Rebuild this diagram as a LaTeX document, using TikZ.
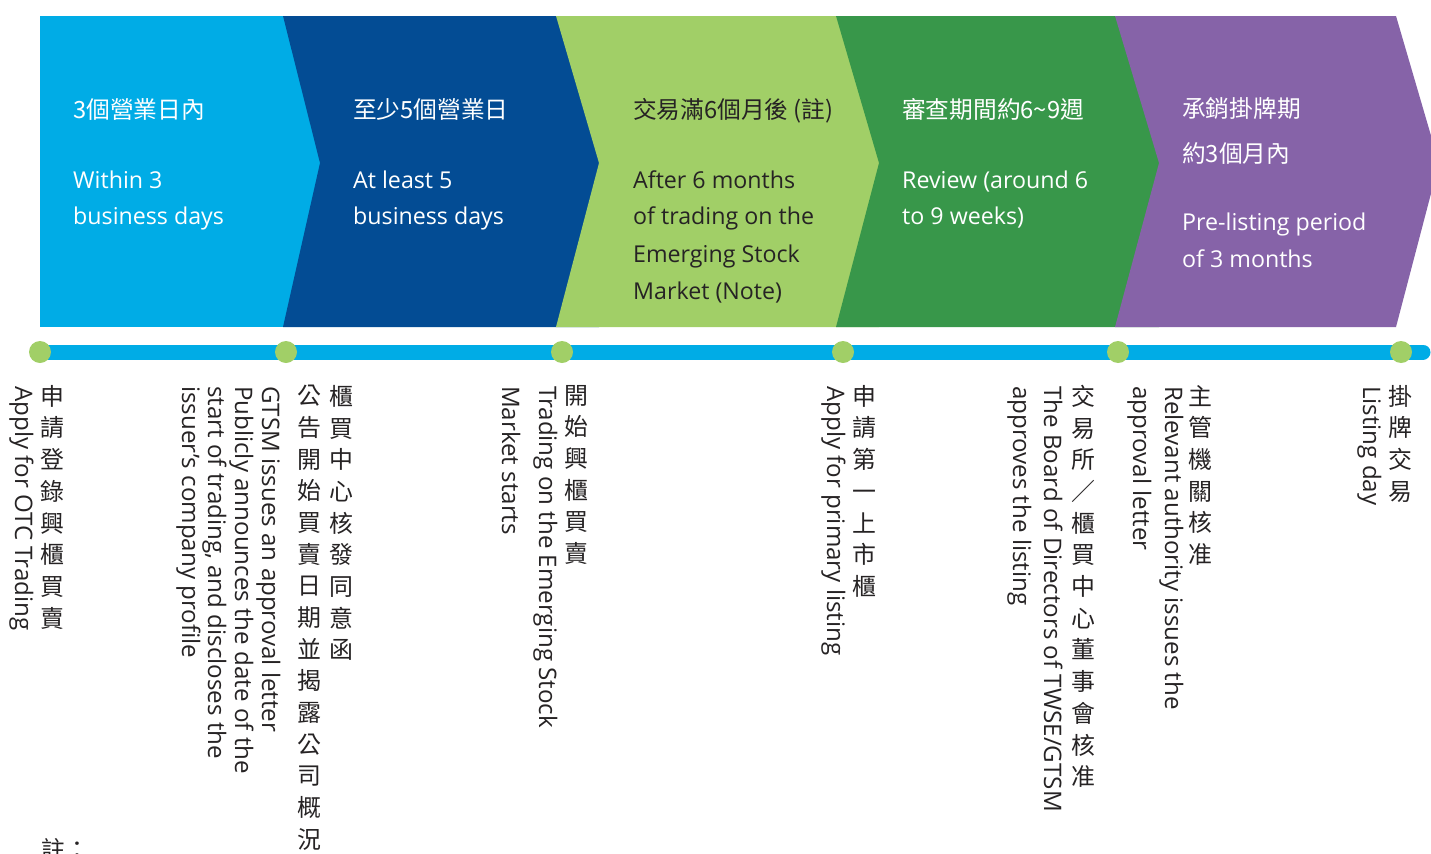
\documentclass[tikz,border=0pt]{standalone}
\usepackage{fontspec}
\setmainfont{Open Sans}
\newfontfamily\cjk{Noto Sans CJK TC}
\definecolor{cLightBlue}{HTML}{00ACE6}
\definecolor{cDarkBlue}{HTML}{034C94}
\definecolor{cLightGreen}{HTML}{A1CF67}
\definecolor{cGreen}{HTML}{38974A}
\definecolor{cPurple}{HTML}{8663A8}
\definecolor{cText}{HTML}{262324}
\tikzset{
  toptext/.style={anchor=base west, inner sep=0pt, font=\fontsize{23.3}{28}\selectfont, text=white},
  topcjk/.style={anchor=base west, inner sep=0pt, font=\cjk\fontsize{23.8}{28}\selectfont, text=white},
  vlabel/.style={anchor=base west, inner sep=0pt, rotate=-90, font=\fontsize{24.2}{27}\selectfont, text=cText},
  vcjk/.style={anchor=north, inner sep=0pt, align=center, font=\cjk\fontsize{24}{31.8}\selectfont, text=cText},
  dotnode/.style={circle, fill=cLightGreen, minimum size=22bp, inner sep=0pt},
  timebar/.style={line width=15bp, line cap=round, draw=cLightBlue}
}
\begin{document}
\begin{tikzpicture}[x=1bp,y=-1bp]
\useasboundingbox (0,0) rectangle (1431,853);
% chevrons
\fill[cLightBlue] (40,16) rectangle (320,327);
\fill[cDarkBlue] (283,16) -- (599,16) -- (599,327) -- (283,327) -- (320,163) -- cycle;
\fill[cLightGreen] (556,16) -- (879,16) -- (879,327) -- (556,327) -- (599,163) -- cycle;
\fill[cGreen] (836,16) -- (1159,16) -- (1159,327) -- (836,327) -- (879,163) -- cycle;
\fill[cPurple] (1115,16) -- (1396,16) -- (1439,163) -- (1396,327) -- (1115,327) -- (1159,163) -- cycle;
% chevron texts
\node[topcjk] (c1a) at (73,118) {3個營業日內};
\node[toptext] (c1b) at (73,188) {Within 3};
\node[toptext] (c1c) at (73,224) {business days};
\node[topcjk] (c2a) at (353,118) {至少5個營業日};
\node[toptext] (c2b) at (353,188) {At least 5};
\node[toptext] (c2c) at (353,224) {business days};
\node[topcjk, text=cText] (c3a) at (633,118) {交易滿6個月後 (註)};
\node[toptext, text=cText] (c3b) at (633,188) {After 6 months};
\node[toptext, text=cText] (c3c) at (633,224) {of trading on the};
\node[toptext, text=cText] (c3d) at (633,262) {Emerging Stock};
\node[toptext, text=cText] (c3e) at (633,299) {Market (Note)};
\node[topcjk] (c4a) at (902,118) {審查期間約6\textasciitilde9週};
\node[toptext] (c4b) at (902,188) {Review (around 6};
\node[toptext] (c4c) at (902,224) {to 9 weeks)};
\node[topcjk] (c5a) at (1182,117) {承銷掛牌期};
\node[topcjk] (c5b) at (1182,162) {約3個月內};
\node[toptext] (c5c) at (1182,230) {Pre-listing period};
\node[toptext] (c5d) at (1182,267) {of 3 months};
% timeline
\coordinate (p1) at (40,352);
\coordinate (p2) at (286,352);
\coordinate (p3) at (562,352);
\coordinate (p4) at (843,352);
\coordinate (p5) at (1118,352);
\coordinate (p6) at (1401,352);
\coordinate (pend) at (1423,352);
\draw[timebar] (p1) -- (pend);
\node[dotnode] (d1) at (p1) {};
\node[dotnode] (d2) at (p2) {};
\node[dotnode] (d3) at (p3) {};
\node[dotnode] (d4) at (p4) {};
\node[dotnode] (d5) at (p5) {};
\node[dotnode] (d6) at (p6) {};
% event 1
\node[vcjk] (e1z) at (52,385) {申\\請\\登\\錄\\興\\櫃\\買\\賣};
\node[vlabel] (e1e) at (15,386) {Apply for OTC Trading};
% event 2
\node[vcjk] (e2z) at (341,385) {櫃\\買\\中\\心\\核\\發\\同\\意\\函};
\node[vcjk] (e2y) at (309,385) {公\\告\\開\\始\\買\\賣\\日\\期\\並\\揭\\露\\公\\司\\概\\況};
\node[vlabel] (e2a) at (262,386) {GTSM issues an approval letter};
\node[vlabel] (e2b) at (235,386) {Publicly announces the date of the};
\node[vlabel] (e2c) at (208,386) {start of trading, and discloses the};
\node[vlabel] (e2d) at (182,386) {issuer’s company profile};
% event 3
\node[vcjk] (e3z) at (576,385) {開\\始\\興\\櫃\\買\\賣};
\node[vlabel] (e3a) at (539,386) {Trading on the Emerging Stock};
\node[vlabel] (e3b) at (502,386) {Market starts};
% event 4
\node[vcjk] (e4z) at (864,385) {申\\請\\第\\一\\上\\市\\櫃};
\node[vlabel] (e4a) at (827,386) {Apply for primary listing};
% event 5
\node[vcjk] (e5z) at (1200,385) {主\\管\\機\\關\\核\\准};
\node[vlabel] (e5a) at (1165,386) {Relevant authority issues the};
\node[vlabel] (e5b) at (1133,386) {approval letter};
\node[vcjk] (e5y) at (1083,385) {交\\易\\所\\／\\櫃\\買\\中\\心\\董\\事\\會\\核\\准};
\node[vlabel] (e5c) at (1044,386) {The Board of Directors of TWSE/GTSM};
\node[vlabel] (e5d) at (1013,386) {approves the listing};
% event 6
\node[vcjk] (e6z) at (1400,385) {掛\\牌\\交\\易};
\node[vlabel] (e6a) at (1363,386) {Listing day};
% note (cut by the lower edge, as in the reference)
\node[anchor=north west, inner sep=0pt, font=\cjk\fontsize{24}{28}\selectfont, text=cText] (note) at (41,838) {註：};
\end{tikzpicture}
\end{document}
